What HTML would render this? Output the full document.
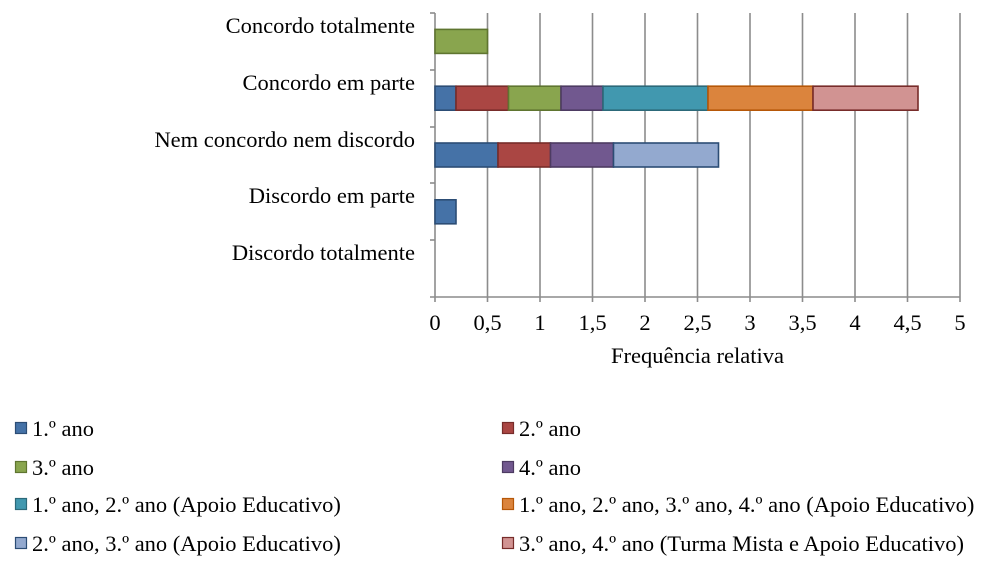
<!DOCTYPE html>
<html><head><meta charset="utf-8"><style>
html,body{margin:0;padding:0;background:#fff;}
svg{display:block;}
text{font-family:"Liberation Serif","Times New Roman",serif;fill:#000;}
</style></head><body>
<svg width="999" height="565" viewBox="0 0 999 565" xmlns="http://www.w3.org/2000/svg">
<!-- gridlines -->
<g stroke="#8c8c8c" stroke-width="1.6">
<line x1="487.5" y1="13" x2="487.5" y2="297"/>
<line x1="540" y1="13" x2="540" y2="297"/>
<line x1="592.5" y1="13" x2="592.5" y2="297"/>
<line x1="645" y1="13" x2="645" y2="297"/>
<line x1="697.5" y1="13" x2="697.5" y2="297"/>
<line x1="750" y1="13" x2="750" y2="297"/>
<line x1="802.5" y1="13" x2="802.5" y2="297"/>
<line x1="855" y1="13" x2="855" y2="297"/>
<line x1="907.5" y1="13" x2="907.5" y2="297"/>
<line x1="960" y1="13" x2="960" y2="302"/>
<!-- axes -->
<line x1="435" y1="13" x2="435" y2="302"/>
<line x1="430" y1="297" x2="960" y2="297"/>
<!-- category ticks -->
<line x1="430" y1="13" x2="435" y2="13"/>
<line x1="430" y1="70" x2="435" y2="70"/>
<line x1="430" y1="127" x2="435" y2="127"/>
<line x1="430" y1="183" x2="435" y2="183"/>
<line x1="430" y1="240" x2="435" y2="240"/>
<!-- value ticks -->
<line x1="487.5" y1="297" x2="487.5" y2="302"/>
<line x1="540" y1="297" x2="540" y2="302"/>
<line x1="592.5" y1="297" x2="592.5" y2="302"/>
<line x1="645" y1="297" x2="645" y2="302"/>
<line x1="697.5" y1="297" x2="697.5" y2="302"/>
<line x1="750" y1="297" x2="750" y2="302"/>
<line x1="802.5" y1="297" x2="802.5" y2="302"/>
<line x1="855" y1="297" x2="855" y2="302"/>
<line x1="907.5" y1="297" x2="907.5" y2="302"/>
</g>
<!-- bars -->
<g stroke-width="1.6">
<!-- Concordo totalmente -->
<rect x="435" y="29.4" width="52.5" height="24" fill="#89A54E" stroke="#5F7530"/>
<!-- Concordo em parte -->
<rect x="435" y="86.2" width="21" height="24" fill="#4572A7" stroke="#2C4D75"/>
<rect x="456" y="86.2" width="52.5" height="24" fill="#AA4643" stroke="#772C2A"/>
<rect x="508.5" y="86.2" width="52.5" height="24" fill="#89A54E" stroke="#5F7530"/>
<rect x="561" y="86.2" width="42" height="24" fill="#71588F" stroke="#4D3B62"/>
<rect x="603" y="86.2" width="105" height="24" fill="#4198AF" stroke="#2C6979"/>
<rect x="708" y="86.2" width="105" height="24" fill="#DB843D" stroke="#B65708"/>
<rect x="813" y="86.2" width="105" height="24" fill="#D19392" stroke="#772C2A"/>
<!-- Nem concordo nem discordo -->
<rect x="435" y="143" width="63" height="24" fill="#4572A7" stroke="#2C4D75"/>
<rect x="498" y="143" width="52.5" height="24" fill="#AA4643" stroke="#772C2A"/>
<rect x="550.5" y="143" width="63" height="24" fill="#71588F" stroke="#4D3B62"/>
<rect x="613.5" y="143" width="105" height="24" fill="#93A9CF" stroke="#2C4D75"/>
<!-- Discordo em parte -->
<rect x="435" y="199.8" width="21" height="24" fill="#4572A7" stroke="#2C4D75"/>
</g>
<!-- category labels -->
<g font-size="22.5" text-anchor="end">
<text x="415" y="33">Concordo totalmente</text>
<text x="415" y="90">Concordo em parte</text>
<text x="415" y="147">Nem concordo nem discordo</text>
<text x="415" y="203">Discordo em parte</text>
<text x="415" y="260">Discordo totalmente</text>
</g>
<!-- value labels -->
<g font-size="22.5" text-anchor="middle">
<text x="435" y="330">0</text>
<text x="487.5" y="330">0,5</text>
<text x="540" y="330">1</text>
<text x="592.5" y="330">1,5</text>
<text x="645" y="330">2</text>
<text x="697.5" y="330">2,5</text>
<text x="750" y="330">3</text>
<text x="802.5" y="330">3,5</text>
<text x="855" y="330">4</text>
<text x="907.5" y="330">4,5</text>
<text x="960" y="330">5</text>
<text x="697.5" y="363">Frequência relativa</text>
</g>
<!-- legend -->
<g stroke-width="1.2">
<rect x="15.5" y="422.5" width="11" height="11" fill="#4572A7" stroke="#2C4D75"/>
<rect x="15.5" y="461.5" width="11" height="11" fill="#89A54E" stroke="#5F7530"/>
<rect x="15.5" y="498.5" width="11" height="11" fill="#4198AF" stroke="#2C6979"/>
<rect x="15.5" y="537.5" width="11" height="11" fill="#93A9CF" stroke="#2C4D75"/>
<rect x="502.5" y="422.5" width="11" height="11" fill="#AA4643" stroke="#772C2A"/>
<rect x="502.5" y="461.5" width="11" height="11" fill="#71588F" stroke="#4D3B62"/>
<rect x="502.5" y="498.5" width="11" height="11" fill="#DB843D" stroke="#B65708"/>
<rect x="502.5" y="537.5" width="11" height="11" fill="#D19392" stroke="#772C2A"/>
</g>
<g font-size="22.5">
<text x="32" y="436">1.º ano</text>
<text x="32" y="475">3.º ano</text>
<text x="32" y="512">1.º ano, 2.º ano (Apoio Educativo)</text>
<text x="32" y="551">2.º ano, 3.º ano (Apoio Educativo)</text>
<text x="519" y="436">2.º ano</text>
<text x="519" y="475">4.º ano</text>
<text x="519" y="512">1.º ano, 2.º ano, 3.º ano, 4.º ano (Apoio Educativo)</text>
<text x="519" y="551">3.º ano, 4.º ano (Turma Mista e Apoio Educativo)</text>
</g>
</svg>
</body></html>
